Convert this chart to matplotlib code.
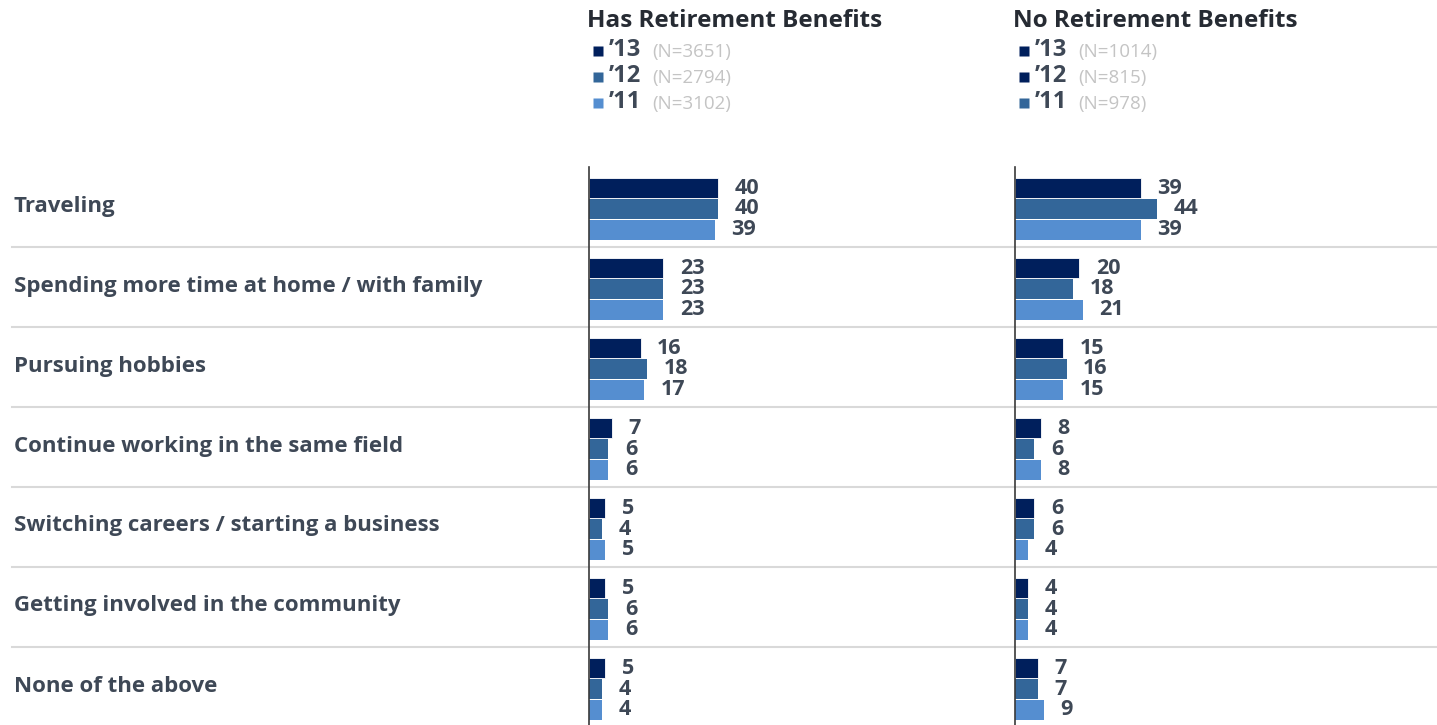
import numpy as np
import matplotlib
matplotlib.use("Agg")
import matplotlib.pyplot as plt

plt.rcParams['font.family'] = ['Open Sans', 'Lato', 'DejaVu Sans']

# data
categories = ["Traveling",
              "Spending more time at home / with family",
              "Pursuing hobbies",
              "Continue working in the same field",
              "Switching careers / starting a business",
              "Getting involved in the community",
              "None of the above"]
years = ["\u201913", "\u201912", "\u201911"]
has_n = ["(N=3651)", "(N=2794)", "(N=3102)"]
no_n = ["(N=1014)", "(N=815)", "(N=978)"]
has_13 = [40, 23, 16, 7, 5, 5, 5]
has_12 = [40, 23, 18, 6, 4, 6, 4]
has_11 = [39, 23, 17, 6, 5, 6, 4]
no_13 = [39, 20, 15, 8, 6, 4, 7]
no_12 = [44, 18, 16, 6, 6, 4, 7]
no_11 = [39, 21, 15, 8, 4, 4, 9]

bar_colors = ["#001f5c", "#336699", "#558ed0"]
legend_colors_no = ["#001f5c", "#001f5c", "#336699"]
txt = "#3e4856"
W, H = 1437, 725
fig = plt.figure(figsize=(W / 100, H / 100), dpi=100)

# background axes in pixel space for labels, separators, legends
bg = fig.add_axes([0, 0, 1, 1])
bg.set_xlim(0, W)
bg.set_ylim(H, 0)
bg.axis("off")

top = 167
row_h = 80
for i, cat in enumerate(categories):
    y0 = top + i * row_h
    bg.text(14, y0 + 39, cat, fontsize=16, fontweight="bold", color=txt,
            va="center", ha="left")
    if i > 0:
        bg.plot([12, W], [y0, y0], color="#d9d9d9", lw=1.5)

def legend(x, title, ns, cols):
    bg.text(x - 2, 21, title, fontsize=17.5, fontweight="bold",
            color="#262b33", va="center", ha="left")
    for k in range(3):
        yy = 51 + k * 26
        bg.plot(x + 9, yy, marker="s", ms=7.5, color=cols[k], mec="none")
        bg.text(x + 20, yy - 1, years[k], fontsize=17, fontweight="bold",
                color=txt, va="center", ha="left")
        bg.text(x + 63, yy + 1, ns[k], fontsize=13.5, color="#c4c4c4",
                va="center", ha="left")

legend(589, "Has Retirement Benefits", has_n, bar_colors)
legend(1015, "No Retirement Benefits", no_n, legend_colors_no)

scale = 3.22  # px per percent
nrows = (H - top) / row_h

def panel(x0, x1, series):
    ax = fig.add_axes([x0 / W, 0, (x1 - x0) / W, (H - top) / H])
    ax.set_xlim(0, (x1 - x0) / scale)
    ax.set_ylim(nrows, 0)
    ax.patch.set_alpha(0)
    for s in ["top", "right", "bottom"]:
        ax.spines[s].set_visible(False)
    ax.spines["left"].set_color("#3a3a3a")
    ax.spines["left"].set_linewidth(1.2)
    ax.set_xticks([])
    ax.set_yticks([])
    y = np.arange(len(categories)) + 0.525
    offs = [-0.26, 0.0, 0.26]
    for k, vals in enumerate(series):
        ax.barh(y + offs[k], vals, height=0.255, color=bar_colors[k],
                edgecolor="white" if k == 0 else "none", lw=0.6)
        for yy, v in zip(y + offs[k], vals):
            ax.annotate(str(v), (v, yy), xytext=(12, 0),
                        textcoords="offset points", fontsize=15.5,
                        fontweight="bold", color=txt, va="center",
                        ha="left")
    return ax

panel(589, 1000, [has_13, has_12, has_11])
panel(1015, W, [no_13, no_12, no_11])

fig.savefig("out.png", dpi=100)
